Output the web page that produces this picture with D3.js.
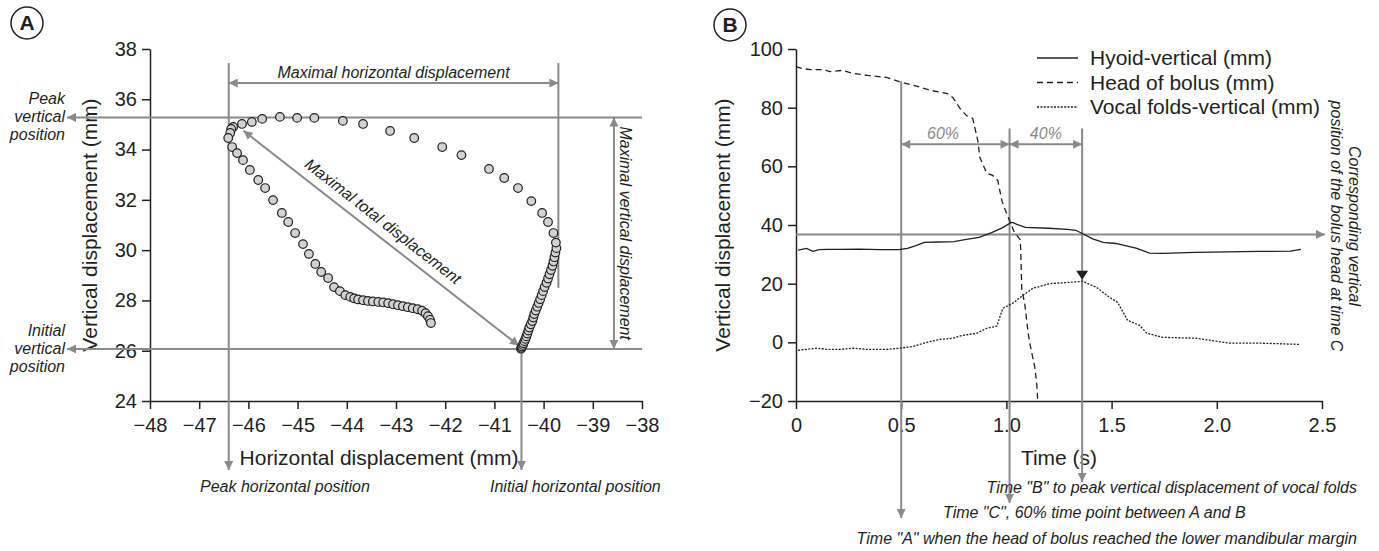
<!DOCTYPE html>
<html>
<head>
<meta charset="utf-8">
<script src="https://d3js.org/d3.v7.min.js"></script>
<style>
  body { margin: 0; background: #fff; }
  svg text { font-family: "Liberation Sans", Arial, sans-serif; fill: #231f20; }
  .axis .domain, .axis .tick line { stroke: #231f20; stroke-width: 1.5; }
  .axis text { font-size: 20px; }
  .note { font-size: 16px; font-style: italic; }
</style>
</head>
<body>
<div id="chart"></div>
<script>
// ---- panel A: hyoid trajectory (mm)
var hyoidX = [-40.46, -40.45, -40.44, -40.42, -40.41, -40.39, -40.37, -40.35, -40.33, -40.31,
  -40.29, -40.26, -40.23, -40.21, -40.19, -40.16, -40.13, -40.10, -40.07, -40.04,
  -40.01, -39.98, -39.94, -39.91, -39.88, -39.85, -39.82, -39.80, -39.78, -39.76,
  -39.74, -39.75, -39.80, -39.91, -40.03, -40.25, -40.52, -40.80, -41.11, -41.67,
  -42.06, -42.63, -43.12, -43.67, -44.08, -44.66, -45.01, -45.36, -45.72, -45.93,
  -46.13, -46.31, -46.35, -46.37, -46.41, -46.33, -46.23, -46.11, -45.97, -45.80,
  -45.66, -45.50, -45.32, -45.19, -45.05, -44.89, -44.77, -44.64, -44.52, -44.38,
  -44.26, -44.14, -44.03, -43.93, -43.85, -43.77, -43.67, -43.57, -43.47, -43.36,
  -43.26, -43.16, -43.06, -42.96, -42.86, -42.76, -42.66, -42.56, -42.47, -42.40,
  -42.35, -42.31, -42.29];
var hyoidY = [26.08, 26.12, 26.17, 26.23, 26.30, 26.38, 26.47, 26.57, 26.68, 26.80,
  26.92, 27.05, 27.18, 27.32, 27.46, 27.60, 27.75, 27.90, 28.05, 28.21,
  28.37, 28.53, 28.70, 28.87, 29.04, 29.21, 29.38, 29.55, 29.72, 29.90,
  30.08, 30.30, 30.68, 31.12, 31.48, 31.95, 32.47, 32.87, 33.23, 33.78,
  34.10, 34.46, 34.74, 35.02, 35.14, 35.26, 35.26, 35.30, 35.22, 35.10,
  35.02, 34.90, 34.82, 34.66, 34.46, 34.10, 33.86, 33.58, 33.19, 32.79,
  32.47, 31.99, 31.48, 31.12, 30.68, 30.24, 29.85, 29.45, 29.13, 28.89,
  28.53, 28.37, 28.21, 28.14, 28.08, 28.04, 28.01, 27.98, 27.96, 27.94,
  27.92, 27.89, 27.85, 27.81, 27.77, 27.73, 27.69, 27.65, 27.59, 27.49,
  27.37, 27.23, 27.10];

// ---- panel B: time series
var hyoidTime = [0.01, 0.05, 0.08, 0.11, 0.15, 0.2, 0.3, 0.4, 0.49, 0.53, 0.57, 0.61, 0.68, 0.75,
  0.81, 0.87, 0.93, 0.98, 1.02, 1.03, 1.05, 1.09, 1.2, 1.29, 1.33, 1.36, 1.41, 1.46, 1.52,
  1.62, 1.68, 1.74, 1.9, 2.2, 2.35, 2.4];
var hyoidVert = [31.4, 32.0, 31.0, 31.6, 31.7, 31.7, 31.8, 31.6, 31.6, 32.0, 33.0, 34.1, 34.2, 34.3,
  35.1, 35.8, 37.4, 39.0, 40.7, 40.9, 40.2, 39.2, 38.9, 38.5, 38.2, 37.1, 35.3, 34.1, 33.7,
  32.0, 30.4, 30.3, 30.7, 31.0, 31.1, 31.7];
var bolusTime = [0, 0.03, 0.07, 0.13, 0.16, 0.22, 0.27, 0.34, 0.43, 0.49, 0.56, 0.64, 0.72, 0.745,
  0.78, 0.81, 0.84, 0.864, 0.874, 0.907, 0.935, 0.959, 0.978, 0.995, 1.015, 1.035, 1.065,
  1.068, 1.073, 1.087, 1.102, 1.111, 1.135, 1.144, 1.149];
var bolusHead = [94.0, 93.3, 93.0, 93.0, 92.3, 92.7, 91.7, 91.0, 90.3, 88.9, 87.6, 85.9, 84.8, 83.5,
  79.7, 77.3, 76.3, 68.8, 63.0, 57.6, 56.9, 55.2, 48.4, 45.0, 41.5, 38.0, 35.0,
  32.0, 18.0, 13.3, 4.0, -0.3, -8.5, -14.0, -20.0];
var vocalTime = [0.01, 0.10, 0.147, 0.209, 0.271, 0.337, 0.432, 0.494, 0.556, 0.622, 0.684, 0.745,
  0.793, 0.859, 0.907, 0.954, 0.983, 1.030, 1.078, 1.125, 1.206, 1.287, 1.363, 1.429, 1.491,
  1.529, 1.576, 1.633, 1.667, 1.743, 1.904, 2.061, 2.217, 2.393];
var vocalVert = [-2.7, -2.0, -2.4, -2.4, -2.0, -2.4, -2.4, -2.0, -1.4, 0.0, 1.0, 1.4,
  2.4, 3.1, 4.8, 5.5, 11.6, 13.3, 16.0, 18.4, 20.0, 20.4, 20.8, 18.7, 15.3,
  13.6, 7.5, 5.8, 3.1, 1.7, 1.4, -0.3, -0.3, -0.7];

var xTicksA = [-48, -47, -46, -45, -44, -43, -42, -41, -40, -39, -38];
var yTicksA = [24, 26, 28, 30, 32, 34, 36, 38];
var xTicksB = [0, 0.5, 1, 1.5, 2, 2.5];
var yTicksB = [-20, 0, 20, 40, 60, 80, 100];

var seriesNames = ["Hyoid-vertical (mm)", "Head of bolus (mm)", "Vocal folds-vertical (mm)"];

// reference values used by the annotations
var peakHoriz = -46.4, initHoriz = -40.45, maxHoriz = -39.7;
var peakVert = 35.28, initVert = 26.07;
var timeA = 0.5, timeC = 1.015, timeB = 1.36;
var bolusAtC = 36.8, vocalPeak = 21;

var grey = "#8a8a8a", ink = "#231f20";

var svg = d3.select("#chart").append("svg")
  .attr("width", 1379).attr("height", 551);

svg.append("defs").append("marker")
  .attr("id", "arr")
  .attr("viewBox", "0 0 10 10")
  .attr("refX", 10).attr("refY", 5)
  .attr("markerWidth", 11).attr("markerHeight", 9)
  .attr("markerUnits", "userSpaceOnUse")
  .attr("orient", "auto-start-reverse")
  .append("path").attr("d", "M0,0L10,5L0,10z").attr("fill", grey);

function gline(g, x1, y1, x2, y2, start, end) {
  var l = g.append("line")
    .attr("x1", x1).attr("y1", y1).attr("x2", x2).attr("y2", y2)
    .attr("stroke", grey).attr("stroke-width", 2);
  if (start) l.attr("marker-start", "url(#arr)");
  if (end) l.attr("marker-end", "url(#arr)");
  return l;
}

function badge(cx, cy, letter) {
  svg.append("circle").attr("cx", cx).attr("cy", cy).attr("r", 16)
    .attr("fill", "none").attr("stroke", ink).attr("stroke-width", 1.5);
  svg.append("text").attr("x", cx).attr("y", cy + 7).attr("text-anchor", "middle")
    .style("font-size", "21px").style("font-weight", "bold").text(letter);
}

// ================= panel A =================
var xA = d3.scaleLinear().domain([-48, -38]).range([150, 642]);
var yA = d3.scaleLinear().domain([24, 38]).range([401, 49]);
var gA = svg.append("g");

badge(27, 23, "A");

gA.append("g").attr("class", "axis").attr("transform", "translate(0," + yA(24) + ")")
  .call(d3.axisBottom(xA).tickValues(xTicksA).tickSize(8).tickPadding(9).tickSizeOuter(0));
gA.append("g").attr("class", "axis").attr("transform", "translate(" + xA(-48) + ",0)")
  .call(d3.axisLeft(yA).tickValues(yTicksA).tickSize(8).tickPadding(5).tickSizeOuter(0));

gA.append("text").attr("x", 379).attr("y", 465).attr("text-anchor", "middle")
  .style("font-size", "21px").text("Horizontal displacement (mm)");
gA.append("text").attr("transform", "translate(97," + ((yA(24) + yA(38)) / 2) + ") rotate(-90)")
  .attr("text-anchor", "middle").style("font-size", "21px").text("Vertical displacement (mm)");

// guide lines
var topY = yA(38) + 14, lowY = 470;
gline(gA, xA(peakHoriz), topY, xA(peakHoriz), lowY, false, true);
gline(gA, xA(initHoriz), yA(initVert), xA(initHoriz), lowY, false, true);
gline(gA, xA(maxHoriz), topY, xA(maxHoriz), yA(28.5), false, false);
gline(gA, xA(peakHoriz), yA(38) + 34, xA(maxHoriz), yA(38) + 34, true, true);
gline(gA, xA(-38), yA(peakVert), 67, yA(peakVert), false, true);
gline(gA, xA(-38), yA(initVert), 67, yA(initVert), false, true);
gline(gA, xA(-38.57), yA(peakVert), xA(-38.57), yA(initVert), true, true);
var d0 = [xA(-46.1), yA(34.75)], d1 = [xA(-40.5), yA(26.2)];
gline(gA, d0[0], d0[1], d1[0], d1[1], true, true);

gA.append("text").attr("class", "note").attr("x", (xA(peakHoriz) + xA(maxHoriz)) / 2)
  .attr("y", yA(38) + 29).attr("text-anchor", "middle").text("Maximal horizontal displacement");
gA.append("text").attr("class", "note")
  .attr("transform", "translate(620," + ((yA(peakVert) + yA(initVert)) / 2) + ") rotate(90)")
  .attr("text-anchor", "middle").text("Maximal vertical displacement");
var ang = Math.atan2(d1[1] - d0[1], d1[0] - d0[0]) * 180 / Math.PI;
gA.append("text").attr("class", "note")
  .attr("transform", "translate(" + ((d0[0] + d1[0]) / 2) + "," + ((d0[1] + d1[1]) / 2) + ") rotate(" + ang + ")")
  .attr("x", -9).attr("y", -9).attr("text-anchor", "middle").text("Maximal total displacement");

[["Peak", "vertical", "position", peakVert], ["Initial", "vertical", "position", initVert]].forEach(function (lab) {
  var t = gA.append("text").attr("class", "note").attr("text-anchor", "end");
  [-18, 0, 18].forEach(function (dy, i) {
    t.append("tspan").attr("x", 65).attr("y", yA(lab[3]) + dy + 5).text(lab[i]);
  });
});
gA.append("text").attr("class", "note").attr("x", 200).attr("y", 492).text("Peak horizontal position");
gA.append("text").attr("class", "note").attr("x", 490).attr("y", 492).text("Initial horizontal position");

gA.selectAll(".pt").data(hyoidX).enter().append("circle")
  .attr("class", "pt")
  .attr("cx", function (d) { return xA(d); })
  .attr("cy", function (d, i) { return yA(hyoidY[i]); })
  .attr("r", 4.3)
  .attr("fill", "#d2d2d2").attr("stroke", ink).attr("stroke-width", 1.2);

// ================= panel B =================
var xB = d3.scaleLinear().domain([0, 2.5]).range([796, 1322]);
var yB = d3.scaleLinear().domain([-20, 100]).range([401, 49]);
var gB = svg.append("g");

badge(730, 25, "B");

gB.append("g").attr("class", "axis").attr("transform", "translate(0," + yB(-20) + ")")
  .call(d3.axisBottom(xB).tickValues(xTicksB).tickSize(8).tickPadding(9).tickSizeOuter(0)
    .tickFormat(function (d) { return d === 0 ? "0" : d3.format(".1f")(d); }));
gB.append("g").attr("class", "axis").attr("transform", "translate(" + xB(0) + ",0)")
  .call(d3.axisLeft(yB).tickValues(yTicksB).tickSize(8).tickPadding(5).tickSizeOuter(0));

gB.append("text").attr("x", (xB(0) + xB(2.5)) / 2).attr("y", 465).attr("text-anchor", "middle")
  .style("font-size", "21px").text("Time (s)");
gB.append("text").attr("transform", "translate(730," + ((yB(-20) + yB(100)) / 2) + ") rotate(-90)")
  .attr("text-anchor", "middle").style("font-size", "21px").text("Vertical displacement (mm)");

// guide lines
gline(gB, xB(0), yB(bolusAtC), xB(2.514), yB(bolusAtC), false, true);
gline(gB, xB(timeA), yB(88.9), xB(timeA), 518, false, true);
gline(gB, xB(timeC), yB(72.9), xB(timeC), 503, false, true);
gline(gB, xB(timeB), yB(72.9), xB(timeB), 482, false, true);
gline(gB, xB(timeA), yB(67.5), xB(timeC), yB(67.5), true, true);
gline(gB, xB(timeC), yB(67.5), xB(timeB), yB(67.5), true, true);
gB.append("text").attr("class", "note").attr("x", 943).attr("y", yB(67.5) - 5)
  .attr("text-anchor", "middle").style("fill", grey).text("60%");
gB.append("text").attr("class", "note").attr("x", (xB(timeC) + xB(timeB)) / 2).attr("y", yB(67.5) - 5)
  .attr("text-anchor", "middle").style("fill", grey).text("40%");

var rot = gB.append("text").attr("class", "note")
  .attr("transform", "translate(1349,226) rotate(90)").attr("text-anchor", "middle");
rot.append("tspan").attr("x", 0).attr("y", 0).text("Corresponding vertical");
rot.append("tspan").attr("x", 0).attr("y", 18).text("position of the bolus head at time C");

gB.append("text").attr("class", "note").attr("x", 1357).attr("y", 493).attr("text-anchor", "end")
  .text('Time "B" to peak vertical displacement of vocal folds');
gB.append("text").attr("class", "note").attr("x", 943).attr("y", 518)
  .text('Time "C", 60% time point between A and B');
gB.append("text").attr("class", "note").attr("x", 1357).attr("y", 544).attr("text-anchor", "end")
  .text('Time "A" when the head of bolus reached the lower mandibular margin');

// data lines
var series = [
  { t: hyoidTime, v: hyoidVert, dash: null },
  { t: bolusTime, v: bolusHead, dash: "6,4" },
  { t: vocalTime, v: vocalVert, dash: "2,1.4" }
];
var line = d3.line()
  .x(function (d) { return xB(d[0]); })
  .y(function (d) { return yB(d[1]); });

series.forEach(function (s) {
  gB.append("path")
    .attr("d", line(s.t.map(function (t, i) { return [t, s.v[i]]; })))
    .attr("fill", "none").attr("stroke", ink).attr("stroke-width", 1.3)
    .attr("stroke-dasharray", s.dash);
});

// marker at vocal fold peak
var px = xB(timeB), py = yB(vocalPeak);
gB.append("path").attr("d", "M" + (px - 6) + "," + (py - 10) + "L" + (px + 6) + "," + (py - 10) + "L" + px + "," + (py - 1) + "z")
  .attr("fill", ink);

// legend
var leg = gB.append("g").attr("transform", "translate(1037,58)");
seriesNames.forEach(function (name, i) {
  var r = leg.append("g").attr("transform", "translate(0," + (i * 24.5) + ")");
  r.append("line").attr("x1", 0).attr("x2", 41).attr("y1", 0).attr("y2", 0)
    .attr("stroke", ink).attr("stroke-width", 1.3).attr("stroke-dasharray", series[i].dash);
  r.append("text").attr("x", 53).attr("y", 7).style("font-size", "21px").text(name);
});
</script>
</body>
</html>
